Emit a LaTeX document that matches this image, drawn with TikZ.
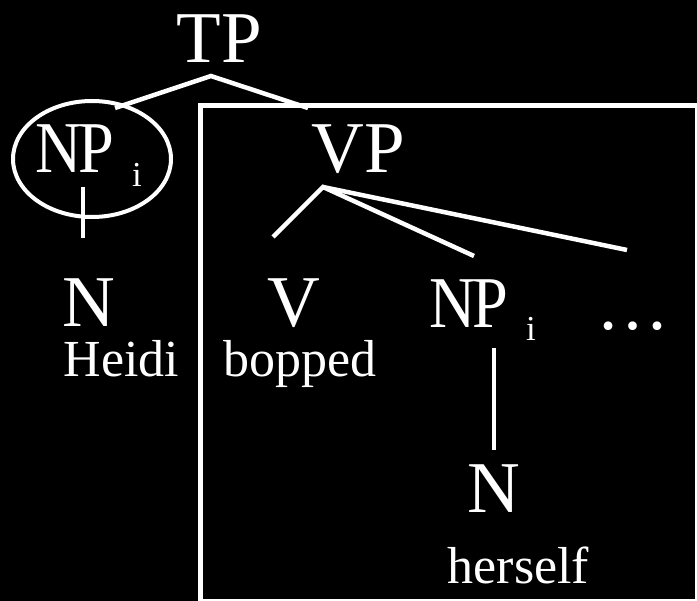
\documentclass[tikz,border=0pt]{standalone}
\usepackage{fontspec}
\setmainfont{Liberation Serif}
\usepackage{graphicx}
\newcommand{\tightNP}{\scalebox{0.88}[1]{N\kern-4pt P}}
\begin{document}
\begin{tikzpicture}[x=1pt,y=-1pt,
  big/.style={text=white,inner sep=0pt,anchor=base,font=\fontsize{73}{73}\selectfont},
  sub/.style={text=white,inner sep=0pt,anchor=base,font=\fontsize{35}{35}\selectfont},
  word/.style={text=white,inner sep=0pt,anchor=base,font=\fontsize{52}{52}\selectfont},
  branch/.style={draw=white,line width=4.5pt},
  frame/.style={draw=white,line width=5pt}]
\fill[black] (0,0) rectangle (697,601);
\useasboundingbox (0,0) rectangle (697,601);
% box
\draw[frame] (200.5,105.5) rectangle (697.5,601.5);
% nodes
\node[big] (tp) at (219.5,63) {TP};
\node[big] (npl) at (74.5,173) {\tightNP};
\node[sub] (npli) at (137,187) {i};
\node[big] (vp) at (358,173) {VP};
\node[big] (nl) at (89,327) {N};
\node[word] (heidi) at (121.5,377) {Heidi};
\node[big] (v) at (293.5,327) {V};
\node[word] (bopped) at (300,377) {bopped};
\node[big] (npr) at (468.5,328) {\tightNP};
\node[sub] (npri) at (531,341) {i};
\node[big] (dots) at (632.5,330) {…};
\node[big] (nr) at (494,513) {N};
\node[word] (herself) at (518.5,584) {herself};
% circle around NP_i
\draw[white,line width=4pt] (92,159) ellipse [x radius=79, y radius=58];
% connector coordinates
\coordinate (tpb) at (211,76);
\coordinate (tpl) at (115,108);
\coordinate (tpr) at (308,108);
\coordinate (nplb) at (83,187);
\coordinate (nlt) at (83,238);
\coordinate (vpb) at (323,187);
\coordinate (vt) at (273,237);
\coordinate (nprt) at (474,256);
\coordinate (dotst) at (627,250);
\coordinate (nprb) at (494,348);
\coordinate (nrt) at (494,450);
% branches
\draw[branch] (tpl) -- (tpb) -- (tpr);
\draw[branch] (nplb) -- (nlt);
\draw[branch] (vt) -- (vpb) -- (nprt);
\draw[branch] (vpb) -- (dotst);
\draw[branch] (nprb) -- (nrt);
\end{tikzpicture}
\end{document}
